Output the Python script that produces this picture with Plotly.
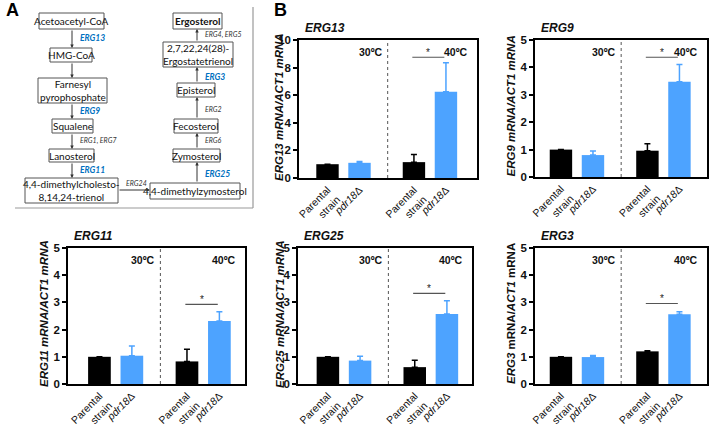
import plotly.graph_objects as go

# ---------------- data ----------------
GENES = ["ERG13", "ERG9", "ERG11", "ERG25", "ERG3"]
CATEGORIES = ["Parental<br>strain", "<i>pdr18</i>Δ", "Parental<br>strain", "<i>pdr18</i>Δ"]
TEMPS = ["30ºC", "40ºC"]
ERG13_MEAN = [1.0, 1.1, 1.15, 6.25]
ERG13_ERR = [0.0, 0.1, 0.55, 2.1]
ERG9_MEAN = [1.0, 0.8, 0.96, 3.48]
ERG9_ERR = [0.0, 0.15, 0.25, 0.63]
ERG11_MEAN = [1.0, 1.04, 0.83, 2.32]
ERG11_ERR = [0.0, 0.36, 0.45, 0.34]
ERG25_MEAN = [1.0, 0.86, 0.62, 2.57]
ERG25_ERR = [0.0, 0.16, 0.25, 0.49]
ERG3_MEAN = [1.0, 0.99, 1.2, 2.56]
ERG3_ERR = [0.0, 0.06, 0.02, 0.1]
Y_MAX = [10, 5, 5, 5, 5]
Y_DTICK = [2, 1, 1, 1, 1]
SIG_Y = [8.75, 4.37, 2.93, 3.33, 2.96]
Y_TITLES = [
    "<b><i>ERG13 mRNA/ACT1 mRNA</i></b>",
    "<b><i>ERG9 mRNA/ACT1 mRNA</i></b>",
    "<b><i>ERG11 mRNA/ACT1 mRNA</i></b>",
    "<b><i>ERG25 mRNA/ACT1 mRNA</i></b>",
    "<b><i>ERG3</i> mRNA/<i>ACT1</i> mRNA</b>",
]
MEANS = [ERG13_MEAN, ERG9_MEAN, ERG11_MEAN, ERG25_MEAN, ERG3_MEAN]
ERRS = [ERG13_ERR, ERG9_ERR, ERG11_ERR, ERG25_ERR, ERG3_ERR]

# pathway (panel A) text
PATH_BOXES = [
    "Acetoacetyl-CoA", "HMG-CoA", "Farnesyl<br>pyrophosphate", "Squalene", "Lanosterol",
    "4,4-dimethylcholesto-<br>8,14,24-trienol", "4,4-dimethylzymosterol", "Zymosterol",
    "Fecosterol", "Episterol", "2,7,22,24(28)-<br>Ergostatetrienol", "<b>Ergosterol</b>",
]
ENZYMES = ["ERG13", "ERG9", "ERG1, ERG7", "ERG11", "ERG24", "ERG25", "ERG6", "ERG2", "ERG3", "ERG4, ERG5"]
HIGHLIGHTED = {"ERG13", "ERG9", "ERG11", "ERG25", "ERG3"}

# ---------------- layout constants ----------------
W, H = 709, 424
def px(x): return x / W
def py(y): return 1 - y / H

BLACK = "#000000"
BLUE = "#4DA3FF"
FONT = "Arial, Liberation Sans, sans-serif"
PFONT = "Lato, Carlito, Calibri, sans-serif"
XPOS = [0, 1, 2.7, 3.7]
DIVIDER = 1.88
DOMAINS = [((299, 477), (40, 178)), ((535, 707), (40, 177)), ((68, 245), (248, 384)),
           ((298, 472), (248, 384)), ((535, 707), (248, 384))]
XRANGES = [[-0.89, 4.67], [-0.81, 4.56], [-0.97, 4.49], [-0.93, 4.48], [-0.81, 4.56]]
YTITLE_X = [279, 511, 44, 280, 511]

fig = go.Figure()
annotations = []
shapes = []
layout = {}

def ann(**kw):
    kw.setdefault("xanchor", "center")
    kw.setdefault("yanchor", "middle")
    kw.setdefault("showarrow", False)
    annotations.append(kw)

for i in range(5):
    n = "" if i == 0 else str(i + 1)
    xa, ya = "x" + n, "y" + n
    m, e = MEANS[i], ERRS[i]
    for idx, col in (([0, 2], BLACK), ([1, 3], BLUE)):
        fig.add_trace(go.Bar(
            x=[XPOS[k] for k in idx], y=[m[k] for k in idx],
            width=0.7, marker=dict(color=col, line=dict(width=0)),
            error_y=dict(type="data", symmetric=False, array=[e[k] for k in idx],
                         arrayminus=[0, 0], color=col, thickness=1.5, width=3),
            xaxis=xa, yaxis=ya, showlegend=False, hoverinfo="skip"))
    (x0, x1), (y0, y1) = DOMAINS[i]
    layout["xaxis" + n] = dict(
        domain=[px(x0), px(x1)], range=XRANGES[i], anchor=ya, automargin=False,
        showline=True, mirror=True, linecolor="black", linewidth=1.5,
        tickvals=XPOS, ticktext=CATEGORIES, tickangle=-45, ticks="",
        showgrid=False, zeroline=False,
        tickfont=dict(family=FONT, size=10.5, color="#111"))
    layout["yaxis" + n] = dict(
        domain=[py(y1), py(y0)], range=[0, Y_MAX[i]], dtick=Y_DTICK[i], anchor=xa, automargin=False,
        showline=True, mirror=True, linecolor="black", linewidth=1.5,
        ticks="outside", ticklen=4, tickwidth=1.5, tickcolor="black",
        showgrid=False, zeroline=False,
        tickfont=dict(family=FONT, size=11.5, color="#111", weight="bold"))
    # divider
    shapes.append(dict(type="line", xref=xa, yref=ya + " domain", x0=DIVIDER, x1=DIVIDER,
                       y0=0, y1=1, line=dict(color="#555", width=1, dash="dot")))
    # significance
    shapes.append(dict(type="line", xref=xa, yref=ya, x0=2.65, x1=3.65, y0=SIG_Y[i], y1=SIG_Y[i],
                       line=dict(color="#555", width=1.2)))
    ann(xref=xa, yref=ya, x=3.15, y=SIG_Y[i], text="*", yanchor="bottom", yshift=-3,
        font=dict(family=FONT, size=10, color="#222"))
    # temps
    ann(xref=xa, yref=ya + " domain", x=DIVIDER, y=1, xanchor="right", yanchor="top",
        xshift=-3, yshift=-4, text="<b>" + TEMPS[0] + "</b>",
        font=dict(family=FONT, size=10.5, color="#111"))
    ann(xref=xa + " domain", yref=ya + " domain", x=1, y=1, xanchor="right", yanchor="top",
        xshift=-7, yshift=-4, text="<b>" + TEMPS[1] + "</b>",
        font=dict(family=FONT, size=10.5, color="#111"))
    # gene title
    ann(xref=xa + " domain", yref=ya + " domain", x=0, y=1, xanchor="left", yanchor="bottom",
        xshift=4, yshift=3, text="<b><i>" + GENES[i] + "</i></b>",
        font=dict(family=FONT, size=12, color="#111"))
    # y title
    ann(xref="paper", yref="paper", x=px(YTITLE_X[i]), y=py((y0 + y1) / 2 - 2),
        text=Y_TITLES[i], textangle=-90, font=dict(family=FONT, size=11.5, color="#111"))

# ---------------- panel A ----------------
BOX_PX = [(39, 104, 13, 29), (50, 92, 48, 62), (38, 107, 78, 103), (52, 93, 119, 133),
          (49, 94, 149, 162), (25, 118, 178, 203), (150, 240, 183, 199), (173, 220, 149, 162),
          (174, 218, 119, 133), (177, 215, 83, 97), (163, 233, 42, 67), (173, 222, 13, 29)]
for (bx0, bx1, by0, by1), label in zip(BOX_PX, PATH_BOXES):
    shapes.append(dict(type="rect", xref="paper", yref="paper", x0=px(bx0), x1=px(bx1),
                       y0=py(by1), y1=py(by0), line=dict(color="#555", width=1), fillcolor="white"))
    ann(xref="paper", yref="paper", x=px((bx0 + bx1) / 2), y=py((by0 + by1) / 2),
        text=label, font=dict(family=PFONT, size=10, color="#111"))

ARROWS_PX = [(72, 29, 72, 48), (72, 62, 72, 78), (72, 103, 72, 119), (72, 133, 72, 149),
             (72, 162, 72, 178), (118, 190, 150, 190), (197, 183, 197, 162), (197, 149, 197, 133),
             (197, 119, 197, 97), (197, 83, 197, 67), (197, 42, 197, 29)]
for (ax0, ay0, ax1, ay1) in ARROWS_PX:
    annotations.append(dict(xref="paper", yref="paper", x=px(ax1), y=py(ay1),
                            ax=ax0 - ax1, ay=ay0 - ay1, axref="pixel", ayref="pixel",
                            text="", showarrow=True, arrowhead=2, arrowsize=0.7, arrowwidth=1,
                            arrowcolor="#333", standoff=0, startstandoff=0))

ENZ_PX = [(78, 38), (78, 111), (78, 141), (78, 170), (124, 183), (203, 174), (203, 140),
          (203, 109), (203, 77), (203, 35)]
for (ex, ey), label in zip(ENZ_PX, ENZYMES):
    hl = label in HIGHLIGHTED
    ann(xref="paper", yref="paper", x=px(ex), y=py(ey), xanchor="left",
        text=("<b><i>%s</i></b>" if hl else "<i>%s</i>") % label,
        font=dict(family=PFONT, size=8.5 if hl else 7, color="#0070C0" if hl else "#333"))

shapes.append(dict(type="line", xref="paper", yref="paper", x0=px(253), x1=px(253),
                   y0=py(208), y1=py(7), line=dict(color="#999", width=1.2)))
shapes.append(dict(type="line", xref="paper", yref="paper", x0=px(15), x1=px(253),
                   y0=py(208), y1=py(208), line=dict(color="#999", width=1.2)))

ann(xref="paper", yref="paper", x=px(4), y=py(10), xanchor="left",
    text="<b>A</b>", font=dict(family=FONT, size=18, color="black"))
ann(xref="paper", yref="paper", x=px(272), y=py(10), xanchor="left",
    text="<b>B</b>", font=dict(family=FONT, size=18, color="black"))

fig.update_layout(width=W, height=H, margin=dict(l=0, r=0, t=0, b=0, autoexpand=False),
                  paper_bgcolor="white", plot_bgcolor="white", barmode="overlay",
                  shapes=shapes, annotations=annotations, **layout)
fig.write_html("out.html", config={"displayModeBar": False},
               post_script="document.body.style.margin='0';document.body.style.overflow='hidden';")
